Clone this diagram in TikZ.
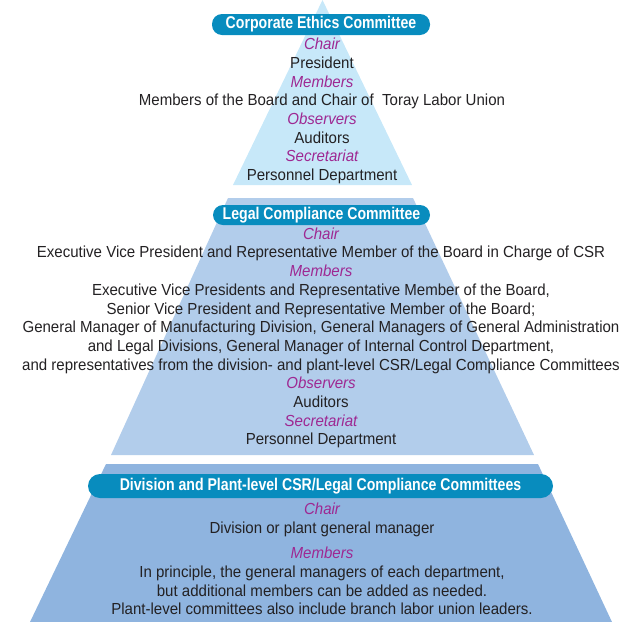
\documentclass[tikz,border=0pt]{standalone}
\usepackage{fontspec}
\setmainfont{Liberation Sans}[FakeStretch=0.94]
\newfontfamily\pillfont{Liberation Sans}[FakeStretch=0.83]
\usetikzlibrary{positioning}

\definecolor{ethicsfill}{RGB}{199,232,249}
\definecolor{legalfill}{RGB}{178,205,235}
\definecolor{plantfill}{RGB}{143,180,223}
\definecolor{pillblue}{RGB}{8,140,190}
\definecolor{rolepurple}{RGB}{158,40,146}
\definecolor{bodygray}{RGB}{35,33,35}

\newcommand{\rolelabel}[1]{{\color{rolepurple}\itshape #1}}

\tikzset{
  pill/.style={fill=pillblue, rounded corners=10pt, text=white, inner sep=0pt,
    font=\pillfont\bfseries\fontsize{17}{17}\selectfont},
  body/.style={align=center, text=bodygray, inner sep=0pt,
    font=\fontsize{16}{18.7}\selectfont},
}

\begin{document}
\begin{tikzpicture}[x=1pt, y=-1pt]
    \useasboundingbox (0,0) rectangle (625,622);

    % pyramid bands
    \fill[ethicsfill] (322.5,0) -- (412,185) -- (233,185) -- cycle;
    \fill[legalfill] (228,198) -- (413,198) -- (534,455) -- (111,455) -- cycle;
    \fill[plantfill] (106,464) -- (538,464) -- (612,622) -- (30,622) -- cycle;

    % committee headers
    \node[pill, minimum width=218pt, minimum height=21pt] (ethics) at (321,24.5) {Corporate Ethics Committee};
    \node[pill, minimum width=217pt, minimum height=20pt] (legal) at (321.5,215) {Legal Compliance Committee};
    \node[pill, minimum width=465pt, minimum height=24pt, rounded corners=12pt] (plant) at (320.5,486) {Division and Plant-level CSR/Legal Compliance Committees};

    % who sits on each committee
    \node[body] (ethicsText) at (322,111) {\rolelabel{Chair}\\ President\\ \rolelabel{Members}\\
        Members of the Board and Chair of~ Toray Labor Union\\ \rolelabel{Observers}\\ Auditors\\
        \rolelabel{Secretariat}\\ Personnel Department};
    \node[body] (legalText) at (321,338) {\rolelabel{Chair}\\
        Executive Vice President and Representative Member of the Board in Charge of CSR\\
        \rolelabel{Members}\\
        Executive Vice Presidents and Representative Member of the Board,\\
        Senior Vice President and Representative Member of the Board;\\
        General Manager of Manufacturing Division, General Managers of General Administration\\
        and Legal Divisions, General Manager of Internal Control Department,\\
        and representatives from the division- and plant-level CSR/Legal Compliance Committees\\
        \rolelabel{Observers}\\ Auditors\\ \rolelabel{Secretariat}\\ Personnel Department};
    \node[body] (plantText) at (322,559) {\rolelabel{Chair}\\ Division or plant general manager\\[7pt]
        \rolelabel{Members}\\
        In principle, the general managers of each department,\\
        but additional members can be added as needed.\\
        Plant-level committees also include branch labor union leaders.};
\end{tikzpicture}
\end{document}
